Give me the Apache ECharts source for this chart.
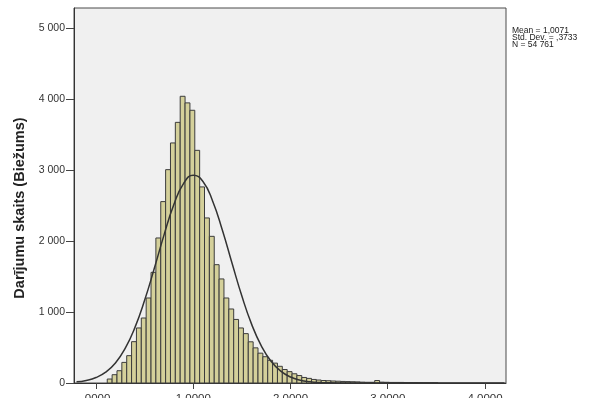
<!DOCTYPE html>
<html>
<head>
<meta charset="utf-8">
<script src="https://cdn.jsdelivr.net/npm/echarts@6/dist/echarts.min.js"></script>
<style>
  html, body { margin: 0; padding: 0; background: #fff; }
  #chart { width: 606px; height: 398px; }
</style>
</head>
<body>
<div id="chart"></div>
<script>
// histogram: bins of width 0.05, first bin starts at 0.116
var binStart = 0.116;
var binWidth = 0.05;
var binCounts = [
  56, 117, 173, 290, 385, 582, 775, 915, 1197, 1558,
  2042, 2554, 3004, 3380, 3670, 4037, 3944, 3840, 3276, 2761,
  2324, 2065, 1666, 1465, 1197, 1042, 895, 775, 695, 580,
  495, 420, 370, 320, 280, 235, 190, 160, 130, 105,
  78, 65, 50, 42, 35, 32, 28, 25, 22, 20,
  18, 16, 12, 10, 10, 35, 12, 10, 8, 8,
  8, 7, 6, 6, 4, 3, 2, 2
];

// normal curve
var curveX = [-0.2, -0.1, 0, 0.1, 0.2, 0.3, 0.4, 0.5, 0.6, 0.7, 0.8, 0.9, 1.0,
  1.1, 1.2, 1.3, 1.4, 1.5, 1.6, 1.7, 1.8, 1.9, 2.0, 2.1, 2.2, 2.3, 2.4, 2.5,
  2.6, 3.0, 3.5, 4.0, 4.2];
var curveY = [16, 36, 77, 153, 283, 487, 780, 1164, 1615, 2086, 2509, 2808, 2925,
  2837, 2560, 2151, 1682, 1224, 829, 523, 307, 167, 85, 40, 18, 7, 3, 1,
  0, 0, 0, 0, 0];

var xTickValues = [0, 1, 2, 3, 4];
var xTickLabels = [',0000', '1,0000', '2,0000', '3,0000', '4,0000'];
var yTickValues = [0, 1000, 2000, 3000, 4000, 5000];
var yTickLabels = ['0', '1 000', '2 000', '3 000', '4 000', '5 000'];
var statsLines = ['Mean = 1,0071', 'Std. Dev. = ,3733', 'N = 54 761'];
var yTitle = 'Darījumu skaits (Biežums)';

var histData = binCounts.map(function (c, i) {
  var x0 = binStart + i * binWidth;
  return [x0, x0 + binWidth, c];
});
var curveData = curveX.map(function (x, i) { return [x, curveY[i]]; });

var chart = echarts.init(document.getElementById('chart'));
chart.setOption({
  animation: false,
  textStyle: { fontFamily: 'Liberation Sans, Arial, sans-serif' },
  grid: {
    left: 74, right: 100, top: 8, bottom: 15,
    outerBoundsMode: 'none',
    show: true, backgroundColor: '#f0f0f0', borderColor: '#4a4a4a', borderWidth: 1
  },
  xAxis: {
    type: 'value', min: -0.226, max: 4.216,
    splitLine: { show: false },
    axisLine: { onZero: false, lineStyle: { color: '#333' } },
    axisTick: { customValues: xTickValues, length: 6, lineStyle: { color: '#444' } },
    axisLabel: {
      customValues: xTickValues, margin: 10, color: '#333', fontSize: 11.5,
      formatter: function (v) { return xTickLabels[xTickValues.indexOf(v)]; }
    }
  },
  yAxis: {
    type: 'value', min: 0, max: 5280,
    splitLine: { show: false },
    axisLine: { show: true, onZero: false, lineStyle: { color: '#333' } },
    axisTick: { customValues: yTickValues, length: 8, lineStyle: { color: '#444' } },
    axisLabel: {
      customValues: yTickValues, margin: 9, color: '#333', fontSize: 10.5,
      formatter: function (v) { return yTickLabels[yTickValues.indexOf(v)]; }
    }
  },
  graphic: [
    {
      type: 'text', x: 20, y: 208, rotation: Math.PI / 2,
      style: {
        text: yTitle, fill: '#222', align: 'center', verticalAlign: 'middle',
        font: 'bold 14.5px "Liberation Sans Narrow", "Liberation Sans", Arial, sans-serif'
      }
    },
    {
      type: 'text', x: 512, y: 27,
      style: {
        text: statsLines.join('\n'), fill: '#222', lineHeight: 7,
        font: '8.5px "Liberation Sans", Arial, sans-serif'
      }
    }
  ],
  series: [
    {
      type: 'custom',
      data: histData,
      encode: { x: [0, 1], y: 2 },
      renderItem: function (params, api) {
        var p0 = api.coord([api.value(0), api.value(2)]);
        var p1 = api.coord([api.value(1), 0]);
        return {
          type: 'rect',
          shape: { x: p0[0], y: p0[1], width: p1[0] - p0[0], height: p1[1] - p0[1] },
          style: { fill: '#d4d09a', stroke: '#3c3c3c', lineWidth: 1 }
        };
      },
      z: 2
    },
    {
      type: 'line',
      data: curveData,
      smooth: true,
      showSymbol: false,
      lineStyle: { color: '#333', width: 1.5 },
      z: 3
    }
  ]
});
</script>
</body>
</html>
